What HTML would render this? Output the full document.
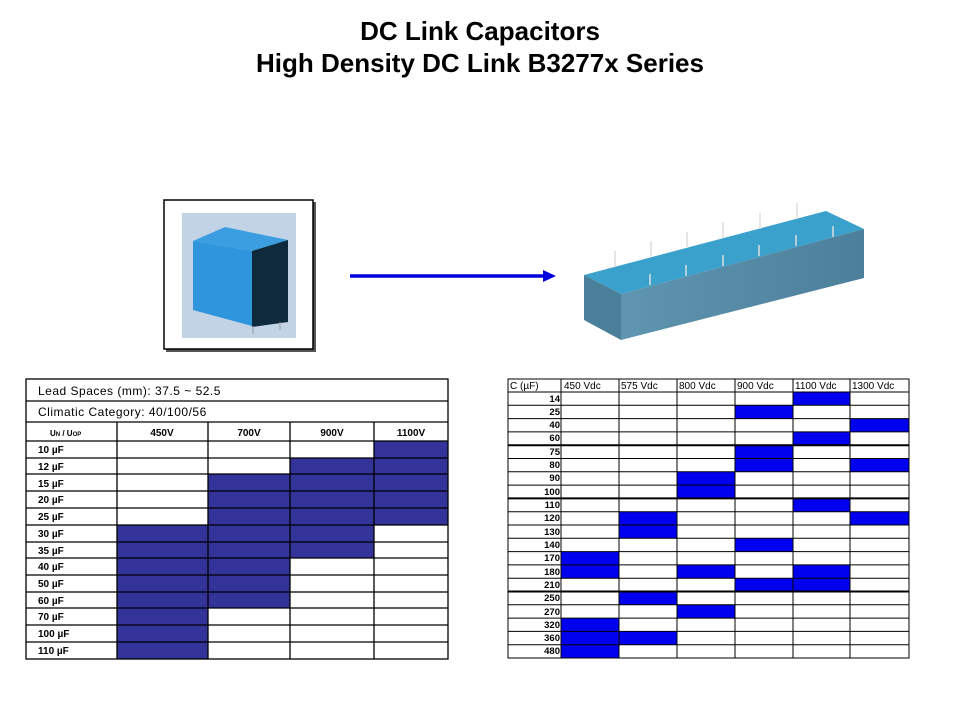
<!DOCTYPE html>
<html><head><meta charset="utf-8"><style>
body{margin:0;width:960px;height:720px;background:#fff;overflow:hidden;font-family:"Liberation Sans",Arial,sans-serif}
.t{position:absolute;left:0;width:960px;text-align:center;font-weight:bold;font-size:26px;color:#000}
</style></head><body>
<div class="t" style="top:16px">DC Link Capacitors</div>
<div class="t" style="top:48px">High Density DC Link B3277x Series</div>
<svg width="960" height="720" style="position:absolute;left:0;top:0" xmlns="http://www.w3.org/2000/svg" font-family="Liberation Sans, Arial, sans-serif">
<defs><linearGradient id="g1" x1="0" x2="1"><stop offset="0" stop-color="#5f95b0"/><stop offset="1" stop-color="#4c7f9a"/></linearGradient></defs>
<rect x="166" y="202" width="150" height="150" fill="#555"/>
<rect x="164" y="200" width="149" height="149" fill="#fff" stroke="#000" stroke-width="1.5"/>
<rect x="182" y="213" width="114" height="125" fill="#c3d3e6"/>
<polygon points="193,241 225,227 288,240 252,251" fill="#3a9ee0"/>
<polygon points="193,241 252,251 252,326 193,310" fill="#2f95dc"/>
<polygon points="252,251 288,240 288,322 252,327" fill="#0e2a3c"/>
<line x1="253" y1="326" x2="253" y2="334" stroke="#999"/><line x1="280" y1="322" x2="280" y2="330" stroke="#999"/>
<line x1="350" y1="276" x2="544" y2="276" stroke="#0000dd" stroke-width="3.5"/>
<polygon points="543,270 556,276 543,282" fill="#0000dd"/>
<polygon points="584,275 826,211 864,229 621,294" fill="#3aa0cc"/>
<polygon points="584,275 621,294 621,340 584,320" fill="#4a7f9a"/>
<polygon points="621,294 864,229 864,278 621,340" fill="url(#g1)"/>
<g stroke="#ddd" stroke-width="1.5">
<line x1="615" y1="267" x2="615" y2="251"/><line x1="651" y1="257" x2="651" y2="241"/><line x1="687" y1="248" x2="687" y2="232"/><line x1="723" y1="238" x2="723" y2="222"/><line x1="760" y1="229" x2="760" y2="213"/><line x1="797" y1="219" x2="797" y2="203"/>
<line x1="650" y1="285" x2="650" y2="274"/><line x1="686" y1="276" x2="686" y2="265"/><line x1="723" y1="266" x2="723" y2="255"/><line x1="759" y1="256" x2="759" y2="245"/><line x1="796" y1="246" x2="796" y2="235"/><line x1="833" y1="237" x2="833" y2="226"/>
</g>
<g fill="#333399">
<rect x="374" y="441" width="74" height="84"/>
<rect x="290" y="458" width="84" height="100"/>
<rect x="208" y="474" width="82" height="134"/>
<rect x="117" y="525" width="91" height="134"/>
</g>
<g stroke="#000" stroke-width="1.3" fill="none">
<rect x="26" y="379" width="422" height="280"/>
<line x1="26" y1="401" x2="448" y2="401"/><line x1="26" y1="422" x2="448" y2="422"/>
<line x1="26" y1="441" x2="448" y2="441"/><line x1="26" y1="458" x2="448" y2="458"/><line x1="26" y1="474" x2="448" y2="474"/><line x1="26" y1="491" x2="448" y2="491"/><line x1="26" y1="508" x2="448" y2="508"/><line x1="26" y1="525" x2="448" y2="525"/><line x1="26" y1="542" x2="448" y2="542"/><line x1="26" y1="558" x2="448" y2="558"/><line x1="26" y1="575" x2="448" y2="575"/><line x1="26" y1="592" x2="448" y2="592"/><line x1="26" y1="608" x2="448" y2="608"/><line x1="26" y1="625" x2="448" y2="625"/><line x1="26" y1="642" x2="448" y2="642"/>
<line x1="117" y1="422" x2="117" y2="659"/><line x1="208" y1="422" x2="208" y2="659"/><line x1="290" y1="422" x2="290" y2="659"/><line x1="374" y1="422" x2="374" y2="659"/>
</g>
<g font-size="12" fill="#000">
<text x="38" y="395" letter-spacing="0.5">Lead Spaces (mm): 37.5 ~ 52.5</text>
<text x="38" y="416" letter-spacing="0.5">Climatic Category: 40/100/56</text>
</g>
<g font-size="10" font-weight="bold" fill="#000">
<text x="50" y="436" font-size="8">U<tspan font-size="6">N</tspan> / U<tspan font-size="6">OP</tspan></text>
<text x="162" y="436" text-anchor="middle">450V</text><text x="249" y="436" text-anchor="middle">700V</text><text x="332" y="436" text-anchor="middle">900V</text><text x="411" y="436" text-anchor="middle">1100V</text>
<text x="38" y="453">10 µF</text><text x="38" y="470">12 µF</text><text x="38" y="487">15 µF</text><text x="38" y="503">20 µF</text><text x="38" y="520">25 µF</text><text x="38" y="537">30 µF</text><text x="38" y="554">35 µF</text><text x="38" y="570">40 µF</text><text x="38" y="587">50 µF</text><text x="38" y="604">60 µF</text><text x="38" y="620">70 µF</text><text x="38" y="637">100 µF</text><text x="38" y="654">110 µF</text>
</g>
<g fill="#0000ee">
<rect x="793" y="392" width="57" height="13.3"/>
<rect x="735" y="405.3" width="58" height="13.3"/>
<rect x="850" y="418.6" width="59" height="13.3"/>
<rect x="793" y="431.9" width="57" height="13.3"/>
<rect x="735" y="445.2" width="58" height="26.6"/>
<rect x="850" y="458.5" width="59" height="13.3"/>
<rect x="677" y="471.8" width="58" height="26.6"/>
<rect x="793" y="498.4" width="57" height="13.3"/>
<rect x="619" y="511.7" width="58" height="26.6"/>
<rect x="850" y="511.7" width="59" height="13.3"/>
<rect x="735" y="538.3" width="58" height="13.3"/>
<rect x="561" y="551.6" width="58" height="26.6"/>
<rect x="677" y="564.9" width="58" height="13.3"/>
<rect x="793" y="564.9" width="57" height="26.6"/>
<rect x="735" y="578.2" width="58" height="13.3"/>
<rect x="619" y="591.5" width="58" height="13.3"/>
<rect x="677" y="604.8" width="58" height="13.3"/>
<rect x="561" y="618.1" width="58" height="39.9"/>
<rect x="619" y="631.4" width="58" height="13.3"/>
</g>
<g stroke="#000" stroke-width="1" fill="none">
<rect x="508" y="379" width="401" height="279"/>
<line x1="508" y1="392" x2="909" y2="392"/>
<line x1="508" y1="405.3" x2="909" y2="405.3"/><line x1="508" y1="418.6" x2="909" y2="418.6"/><line x1="508" y1="431.9" x2="909" y2="431.9"/><line x1="508" y1="445.2" x2="909" y2="445.2" stroke-width="2"/><line x1="508" y1="458.5" x2="909" y2="458.5"/><line x1="508" y1="471.8" x2="909" y2="471.8"/><line x1="508" y1="485.1" x2="909" y2="485.1"/><line x1="508" y1="498.4" x2="909" y2="498.4" stroke-width="2"/><line x1="508" y1="511.7" x2="909" y2="511.7"/><line x1="508" y1="525" x2="909" y2="525"/><line x1="508" y1="538.3" x2="909" y2="538.3"/><line x1="508" y1="551.6" x2="909" y2="551.6"/><line x1="508" y1="564.9" x2="909" y2="564.9"/><line x1="508" y1="578.2" x2="909" y2="578.2"/><line x1="508" y1="591.5" x2="909" y2="591.5" stroke-width="2"/><line x1="508" y1="604.8" x2="909" y2="604.8"/><line x1="508" y1="618.1" x2="909" y2="618.1"/><line x1="508" y1="631.4" x2="909" y2="631.4"/><line x1="508" y1="644.7" x2="909" y2="644.7"/>
<line x1="561" y1="379" x2="561" y2="658"/><line x1="619" y1="379" x2="619" y2="658"/><line x1="677" y1="379" x2="677" y2="658"/><line x1="735" y1="379" x2="735" y2="658"/><line x1="793" y1="379" x2="793" y2="658"/><line x1="850" y1="379" x2="850" y2="658"/>
</g>
<g font-size="10" fill="#000">
<text x="510" y="389">C (µF)</text><text x="564" y="389">450 Vdc</text><text x="621" y="389">575 Vdc</text><text x="679" y="389">800 Vdc</text><text x="737" y="389">900 Vdc</text><text x="795" y="389">1100 Vdc</text><text x="852" y="389">1300 Vdc</text>
</g>
<g font-size="9.5" font-weight="bold" fill="#000" text-anchor="end">
<text x="560" y="402">14</text><text x="560" y="415">25</text><text x="560" y="428">40</text><text x="560" y="441">60</text><text x="560" y="455">75</text><text x="560" y="468">80</text><text x="560" y="481">90</text><text x="560" y="495">100</text><text x="560" y="508">110</text><text x="560" y="521">120</text><text x="560" y="535">130</text><text x="560" y="548">140</text><text x="560" y="561">170</text><text x="560" y="575">180</text><text x="560" y="588">210</text><text x="560" y="601">250</text><text x="560" y="615">270</text><text x="560" y="628">320</text><text x="560" y="641">360</text><text x="560" y="654">480</text>
</g>
</svg>
</body></html>
